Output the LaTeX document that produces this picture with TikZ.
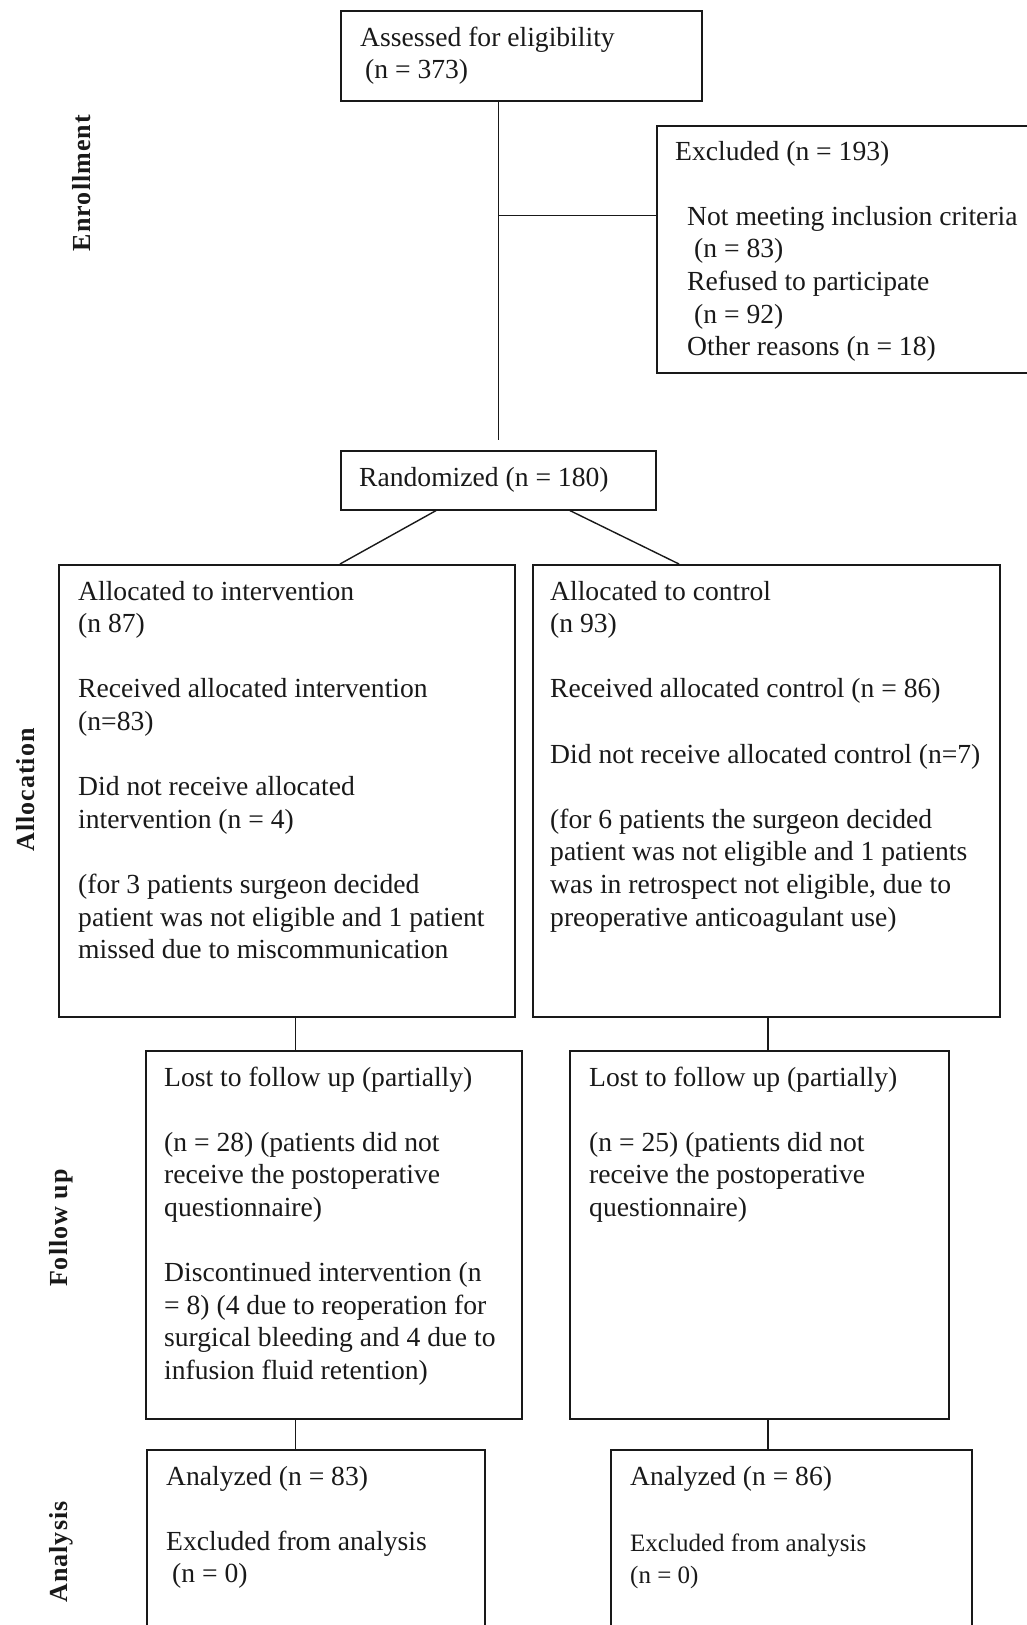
\documentclass[tikz,border=0pt]{standalone}
\usepackage{fontspec}
\setmainfont{Liberation Serif}
\newfontfamily\lblfont[LetterSpace=4]{Liberation Serif}
\definecolor{ink}{RGB}{25,25,25}
\tikzset{
 box/.style={draw=ink, line width=1.6pt, inner sep=0pt, anchor=north west},
 conn/.style={draw=ink, line width=1.4pt},
 txt/.style={inner sep=0pt, anchor=base west, text=ink, font=\fontsize{27.6}{32.6}\selectfont},
 txts/.style={inner sep=0pt, anchor=base west, text=ink, font=\fontsize{25}{32}\selectfont},
 side/.style={inner sep=0pt, rotate=90, text=ink, font=\lblfont\bfseries\fontsize{26}{30}\selectfont},
}
\newcommand\tb[1]{\parbox[t]{600pt}{\raggedright #1}}
\begin{document}
\begin{tikzpicture}[x=1pt,y=-1pt]
\useasboundingbox (0,0) rectangle (1027,1625);
\clip (0,0) rectangle (1027,1625);
% boxes
\node[box, minimum width=361pt, minimum height=90pt] (assess) at (340,10) {};
\node[box, minimum width=390pt, minimum height=247pt] (excl) at (656,125) {};
\node[box, minimum width=315pt, minimum height=59pt] (rand) at (340,450) {};
\node[box, minimum width=456pt, minimum height=452pt] (allocL) at (58,564) {};
\node[box, minimum width=467pt, minimum height=452pt] (allocR) at (532,564) {};
\node[box, minimum width=376pt, minimum height=368pt] (fuL) at (145,1050) {};
\node[box, minimum width=379pt, minimum height=368pt] (fuR) at (569,1050) {};
\node[box, minimum width=338pt, minimum height=200pt] (anL) at (146,1449) {};
\node[box, minimum width=361pt, minimum height=200pt] (anR) at (610,1449) {};
% texts
\node[txt] (assessT) at (360,46) {\tb{Assessed for eligibility\\\hspace*{5pt}(n = 373)}};
\node[txt] (exclT) at (675,160) {\tb{Excluded (n = 193)\\[32.6pt]\hspace*{12pt}Not meeting inclusion criteria\\\hspace*{19pt}(n = 83)\\\hspace*{12pt}Refused to participate\\\hspace*{19pt}(n = 92)\\\hspace*{12pt}Other reasons (n = 18)}};
\node[txt] (randT) at (359,486) {Randomized (n = 180)};
\node[txt] (allocLT) at (78,600) {\tb{Allocated to intervention\\(n 87)\\[32.6pt]Received allocated intervention\\(n=83)\\[32.6pt]Did not receive allocated\\intervention (n = 4)\\[32.6pt](for 3 patients surgeon decided\\patient was not eligible and 1 patient\\missed due to miscommunication}};
\node[txt] (allocRT) at (550,600) {\tb{Allocated to control\\(n 93)\\[32.6pt]Received allocated control (n = 86)\\[32.6pt]Did not receive allocated control (n=7)\\[32.6pt](for 6 patients the surgeon decided\\patient was not eligible and 1 patients\\was in retrospect not eligible, due to\\preoperative anticoagulant use)}};
\node[txt] (fuLT) at (164,1086) {\tb{Lost to follow up (partially)\\[32.6pt](n = 28) (patients did not\\receive the postoperative\\questionnaire)\\[32.6pt]Discontinued intervention (n\\= 8) (4 due to reoperation for\\surgical bleeding and 4 due to\\infusion fluid retention)}};
\node[txt] (fuRT) at (589,1086) {\tb{Lost to follow up (partially)\\[32.6pt](n = 25) (patients did not\\receive the postoperative\\questionnaire)}};
\node[txt] (anLT) at (166,1485) {\tb{Analyzed (n = 83)\\[32.6pt]Excluded from analysis\\\hspace*{6pt}(n = 0)}};
\node[txt] (anRT) at (630,1485) {Analyzed (n = 86)};
\node[txts] (anRT2) at (630,1551) {\tb{Excluded from analysis\\(n = 0)}};
% side labels
\node[side] (lEnr) at (82,183) {Enrollment};
\node[side] (lAll) at (26,790) {Allocation};
\node[side] (lFol) at (61,1228) {Follow up};
\node[side] (lAna) at (61,1552) {Analysis};
% connectors
\coordinate (j1) at (498.5,215.5);
\coordinate (vend) at (498.5,440);
\draw[conn] (assess.south -| j1) -- (vend);
\draw[conn] (j1) -- (j1 -| excl.west);
\coordinate (dL) at (436,0);
\coordinate (dLe) at (340,0);
\coordinate (dR) at (570,0);
\coordinate (dRe) at (679,0);
\draw[conn] (rand.south -| dL) -- (allocL.north -| dLe);
\draw[conn] (rand.south -| dR) -- (allocR.north -| dRe);
\coordinate (cL) at (295.3,0);
\coordinate (cR) at (768,0);
\draw[conn] (allocL.south -| cL) -- (fuL.north -| cL);
\draw[conn] (allocR.south -| cR) -- (fuR.north -| cR);
\draw[conn] (fuL.south -| cL) -- (anL.north -| cL);
\draw[conn] (fuR.south -| cR) -- (anR.north -| cR);
\end{tikzpicture}
\end{document}
